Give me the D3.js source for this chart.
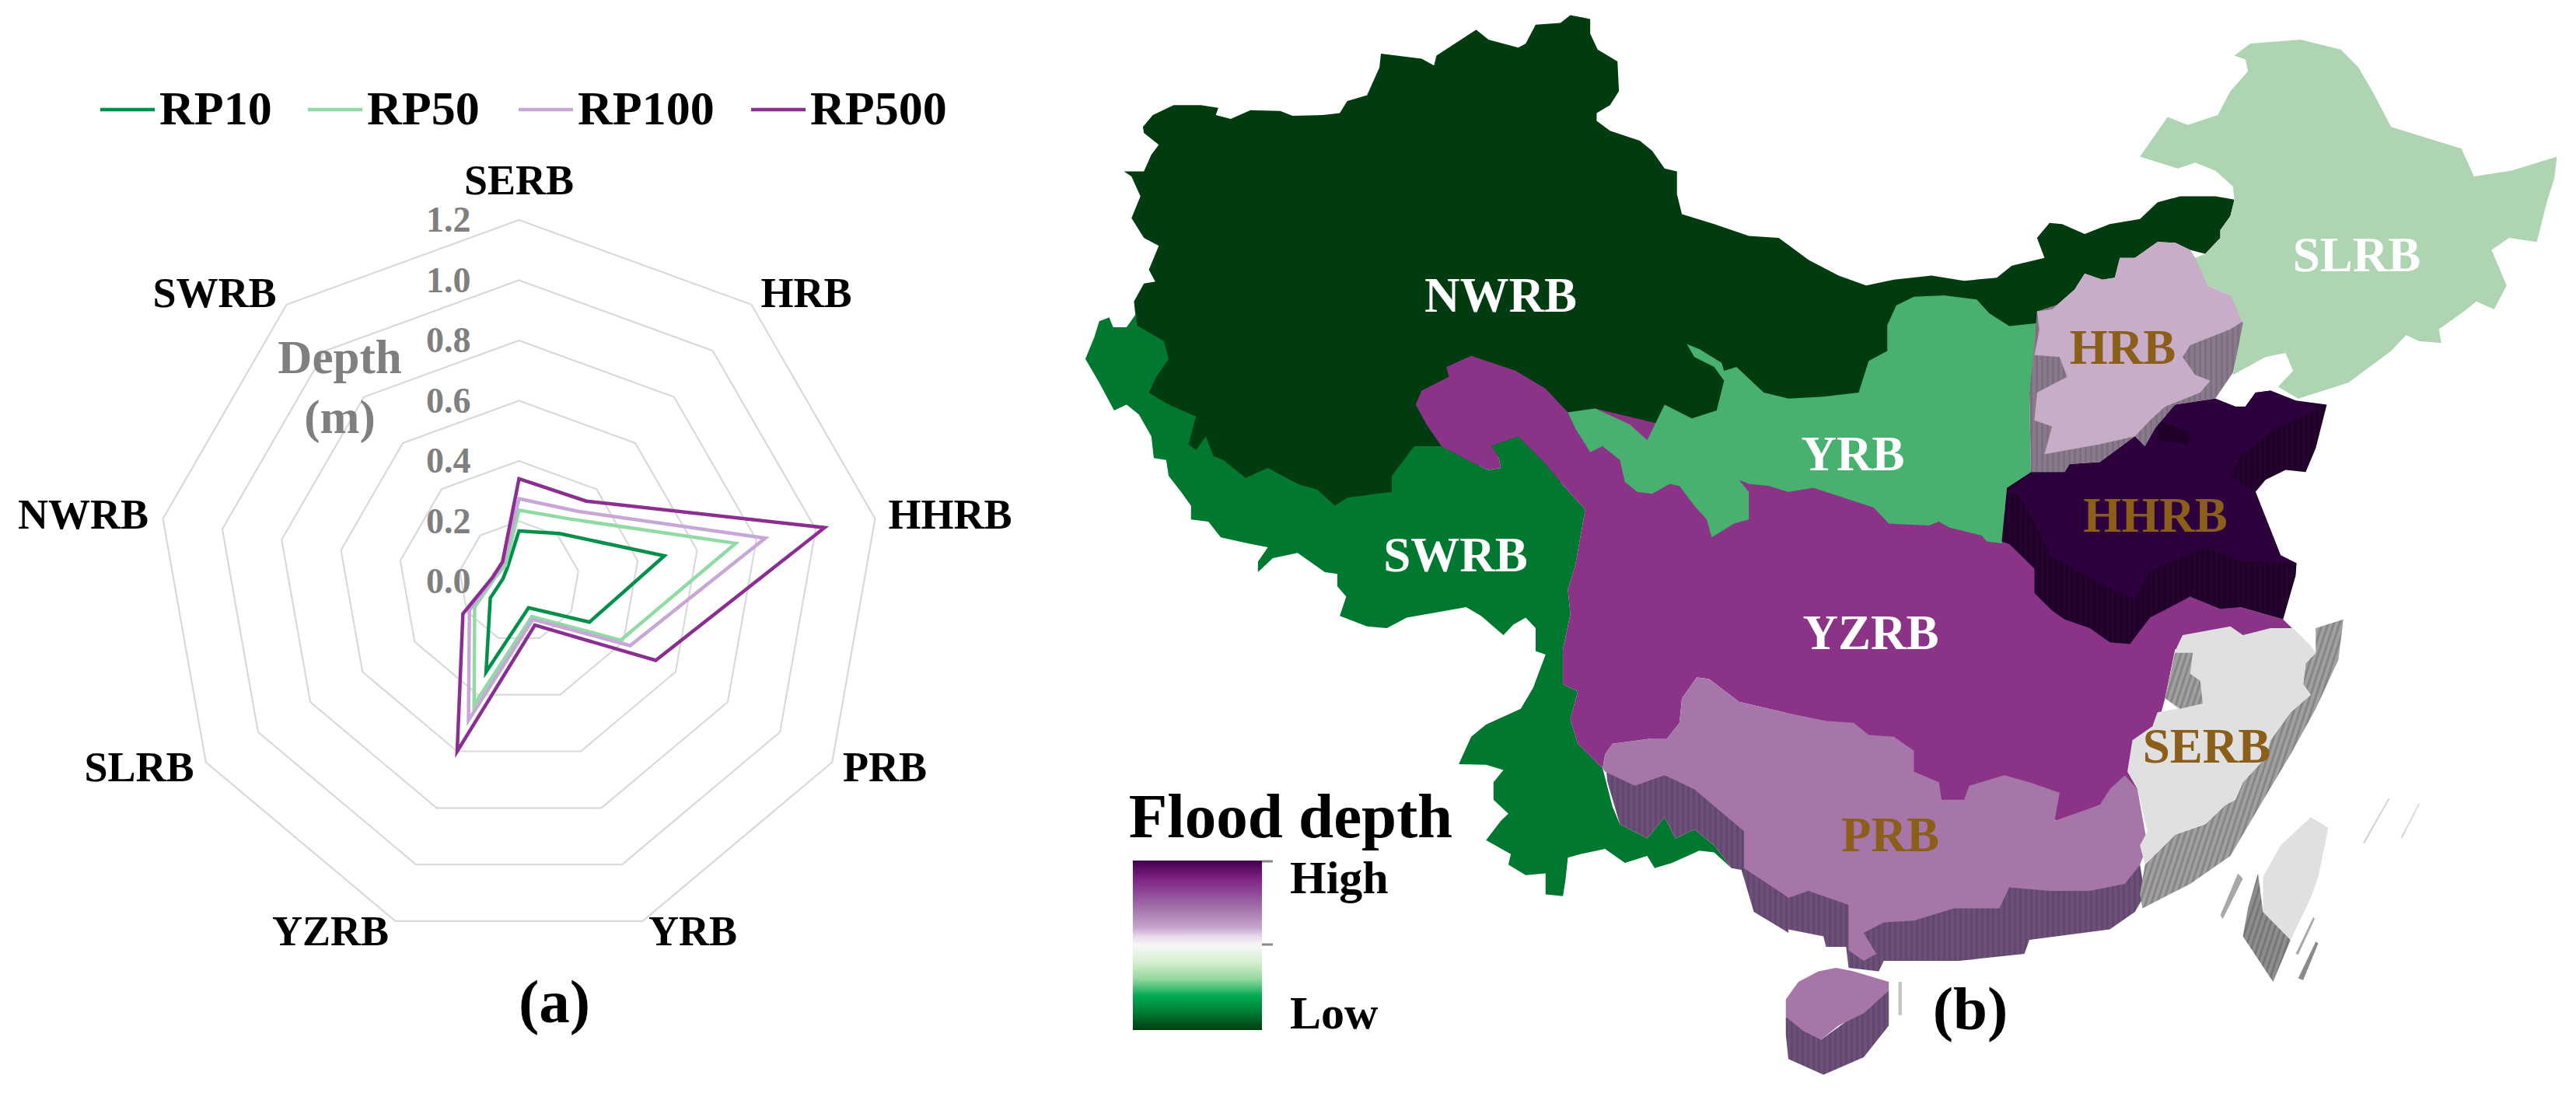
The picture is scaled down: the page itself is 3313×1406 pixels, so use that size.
<!DOCTYPE html>
<html><head><meta charset="utf-8"><style>html,body{margin:0;background:#fff}svg{display:block}text{font-family:"Liberation Serif",serif;font-weight:bold}</style>
<script src="https://cdnjs.cloudflare.com/ajax/libs/d3/7.8.5/d3.min.js"></script></head><body><svg id="c" width="3313" height="1406"></svg>
<script>
const categories=["SERB","HRB","HHRB","PRB","YRB","YZRB","SLRB","NWRB","SWRB"];
const RP10=[0.168,0.208,0.49,0.27,0.093,0.32,0.11,0.054,0.06];
const RP50=[0.237,0.27,0.73,0.39,0.124,0.436,0.17,0.08,0.07];
const RP100=[0.275,0.304,0.83,0.426,0.134,0.49,0.19,0.085,0.08];
const RP500=[0.341,0.348,1.03,0.524,0.154,0.60,0.215,0.088,0.085];
const seriesNames=["RP10","RP50","RP100","RP500"];
const seriesColors=["#00904a","#90dba3","#c9a6d8","#8b2e92"];
const depthTicks=[0,0.2,0.4,0.6,0.8,1.0,1.2];
const catLabelPos=[[667.5,250],[1037,395],[1222,680],[1138,1005],[891,1216],[425,1216],[179,1005],[107,680],[276,395]];

// Map outlines, traced per quadrant of the picture: [quadrant, [x,y,...]]
const Q={NW:[1350,0,1.568,1.96],NE:[2300,0,1.548,1.96],SW:[1350,700,1.568,2.22],SE:[2300,700,1.548,2.22]};
const shapeNWRB=[["NW",[150,432,190,432,205,390,220,365,190,335,188,320,208,290,250,265,305,265,340,272,335,290,365,300,405,278,465,280,490,292,550,290,585,285,600,255,640,240,665,170,668,135,750,148,775,165,780,140,860,75,885,100,945,120,960,110,980,62,1030,58,1050,38,1090,48,1090,85,1105,125,1145,155,1148,230,1130,265,1103,285,1103,305,1130,330,1190,355,1215,380,1240,425,1265,432,1265,490,1275,540,1340,565,1410,595,1470,600,1490,618]],
["NE",[40,655,100,695,155,720,210,705,285,695,350,708,415,700,445,670,510,650,495,600,520,562,545,565,590,590,640,565,700,552,735,510,780,495,850,495,888,503,880,545,860,580,860,600,830,640,800,630,770,612,735,610,690,650,660,650,650,700,625,705,590,690,570,730,525,780,495,815,480,1010,0,1030]],
["NW",[1400,1200,1100,1250,900,1150,700,1300,400,1250,300,1200,200,1000,175,820,170,760,190,715,213,710,200,680,220,620,190,600,165,550,183,495,165,445]]];
const shapeSWRB=[["NW",[120,800,128,825,155,825,175,790,175,820,230,860,240,905,215,950,200,990,240,1020,295,1050,280,1120,295,1135,315,1100,330,1150,350,1160,395,1205,440,1180,500,1220,540,1235,575,1275,600,1255,690,1240,690,1200,735,1125,790,1125,850,1165,885,1185,910,1180,905,1150,890,1125,945,1100,1000,1170,1040,1230,1080,1285]],
["SW",[1060,60,1045,130,1050,200,1035,300,1035,400,1065,420,1050,500,1065,570,1115,640,1135,750,1150,800,1205,840,1240,780,1262,840,1300,815,1340,860,1375,925,1340,880,1310,875,1255,910,1220,925,1205,890,1160,910,1120,870,1070,885,1045,895,1040,960,1035,1005,1000,1000,1000,940,960,945,925,915,930,885,880,845,910,790,925,770,895,730,895,680,915,645,880,630,825,628,850,550,880,515,950,470,975,410,1000,315,980,305,980,240,960,210,935,230,915,260,870,205,840,180,720,210,680,240,640,235,585,205,598,150,580,120,580,85,555,80,500,25,450,40,420,80,420,50]],
["NW",[440,1380,400,1370,345,1355,320,1315,285,1310,285,1275,265,1240,240,1200,235,1160,210,1155,205,1100,180,1045,155,1020,130,1035,100,965,72,905,90,850,100,810]]];
const shapeYZRB=[["NW",[850,897,940,935,1000,980,1045,1040,1100,1030,1500,1150]],["NE",[300,1200,470,1320,500,1400]],
["SE",[600,240,700,150,800,150,900,180,985,215,1010,250,1010,275,770,300,750,440,700,700,540,790,300,740,100,540,77,510]],
["SW",[1480,480,1390,450,1330,385,1305,380,1275,440,1270,510,1245,555,1215,555,1135,570,1120,600,1115,640,1065,570,1050,500,1065,420,1035,400,1035,300,1050,200,1045,130,1060,60]],
["NW",[1080,1285,1040,1230,1000,1170,945,1100,890,1125,905,1150,910,1180,885,1185,850,1165,790,1125,760,1070,738,1020,750,985,805,950,800,925]]];
const shapeYRB=[["NW",[1285,868,1310,880,1355,915,1360,935,1385,925,1440,990,1490,1005]],
["NE",[70,1000,140,990,160,910,197,885,197,820,215,770,250,748,310,745,375,755,400,790,440,822,495,815,480,1000,483,1190,435,1230,425,1370,395,1365,385,1350,320,1330,300,1315,280,1325,200,1320,170,1280,110,1255,50,1230,0,1240]],
["NW",[1450,1225,1410,1220,1390,1210,1410,1240,1410,1310,1380,1320,1335,1355,1325,1310,1300,1275,1270,1225,1250,1220,1215,1245,1185,1240,1160,1215,1150,1160,1115,1125,1090,1140,1060,1080,1045,1040,1100,1030,1170,1070,1205,1110,1240,1020,1295,1055,1345,1035,1360,960,1340,925,1300,900]]];
const shapePRBside=[["SE",[700,915,710,1000,690,1050,640,1100,480,1130,470,1170,340,1190,190,1190,180,1220,120,1210,115,1150,75,1150,70,1120,0,1100]],
["SW",[1490,1110,1420,1050,1395,930,1375,925,1340,860,1300,815,1262,840,1240,780,1205,840,1150,800,1125,680,1122,640,1300,620,1500,800]]];
const shapePRB=[["SW",[1115,640,1120,600,1135,570,1215,555,1245,555,1270,510,1275,440,1305,380,1330,385,1390,450,1480,480]],
["SE",[77,505,130,510,160,545,210,550,250,590,250,650,300,680,305,730,350,730,360,690,430,660,480,680,540,710,530,790,620,745,640,700,670,660,695,700,715,860,700,915,670,970,600,990,520,990,440,980,420,1040,330,1040,250,1075,190,1080,150,1110,175,1170,150,1190,120,1160,120,1030,40,990,0,1010]],
["SW",[1480,1000,1400,925,1400,820,1300,700,1240,660,1180,690,1120,650]]];
const shapeHainanSide=[["SE",[-5,1350,65,1415,200,1275,200,1375,150,1465,70,1515,0,1470,-5,1400]]];
const shapeHainan=[["SE",[-5,1300,20,1250,60,1220,95,1210,130,1220,200,1250,200,1275,150,1340,100,1375,65,1415,30,1390,-5,1350]]];
const shapeSERBside=[["SE",[1050,240,1105,215,1095,330,1050,470,1000,600,950,720,880,890,800,970,705,1040,700,1000,710,915,770,830,830,800,870,745,890,730,905,680,950,610,960,560,1000,480,1040,430,1025,400,1030,340,1050,310]]];
const shapeSERBpatch=[["SE",[770,310,805,310,800,370,820,390,825,455,780,470,750,440]]];
const shapeSERB=[["SE",[785,260,880,235,905,260,960,240,1005,240,1040,290,1050,310,1030,340,1025,400,1040,430,1000,480,960,560,950,610,905,680,890,730,870,745,830,800,770,830,710,915,700,860,715,820,695,700,675,650,685,560,725,520,735,480,775,470,750,440,770,305]]];
const shapeTaiwanSide=[["SE",[935,940,945,1050,1000,1130,965,1250,905,1120,915,1040]]];
const shapeTaiwan=[["SE",[1040,780,1075,810,1055,950,1040,1010,1000,1130,945,1050,945,950,980,860]]];
const shapeIsletA=[["SE",[895,940,905,955,865,1070,860,1060]]];
const shapeIsletB=[["SE",[1050,1135,1055,1140,1025,1245,1015,1240]]];
const shapeIsletC=[["SE",[1045,1065,1048,1070,1015,1172,1010,1170]]];
const shapeIsletD=[["SE",[1195,725,1197,727,1147,855,1144,853]]];
const shapeIsletE=[["SE",[1255,740,1257,742,1222,840,1219,838]]];
const shapeIsletF=[["SE",[219,1250,226,1250,226,1345,219,1345]]];
const shapeHHRBside=[["NE",[435,1230,483,1190,550,1190,560,1170,620,1165,690,1100,710,1125,730,1080,770,1020,850,1005,890,1025,910,1025,930,990,960,985,1010,1010,1072,1020,1050,1130,1030,1190,990,1185,950,1210,930,1240,980,1400,1012,1420]],
["SE",[1012,50,1010,90,985,215,900,180,860,185,800,150,720,210,680,285,640,280,600,240,550,215,525,190,490,140,490,70,440,0]],["NE",[425,1365]]];
const shapeHHRB=[["NE",[440,1240,483,1190,550,1190,560,1170,620,1165,690,1100,710,1125,730,1080,770,1020,850,1005,890,1025,910,1025,930,990,960,985,1010,1010,1060,1030,970,1080,900,1150,880,1200,930,1240,980,1400,1010,1420,900,1415,830,1380,720,1440,690,1510,620,1470,520,1400,500,1340,460,1250]]];
const shapeHHRBpatch=[["NE",[735,1060,800,1090,795,1120,735,1110]]];
const shapeHRBside=[["NE",[495,785,480,1000,483,1190,550,1190,560,1170,620,1165,690,1100,710,1125,730,1080,770,1020,850,1005,885,940,908,815,880,745,700,700]]];
const shapeHRB=[["NE",[495,785,525,780,570,730,590,690,625,705,650,700,660,650,690,650,735,610,770,612,800,630,825,680,835,720,880,745,905,810,880,830,800,870,785,900,810,945,840,960,820,990,750,1025,720,1060,690,1100,620,1120,510,1145,525,1075,490,1060,495,990,555,950,540,900,490,895,500,830]]];
const shapeSLRB=[["NE",[888,140,920,110,1020,100,1100,125,1135,170,1165,235,1200,320,1340,375,1365,445,1440,430,1530,395,1525,450,1510,510,1490,610,1435,600,1400,630,1430,720,1405,780,1370,760,1340,790,1295,830,1300,865,1255,860,1230,845,1200,885,1115,965,1015,1005,975,975,1005,935,990,890,950,900,885,945,905,815,880,745,835,720,810,650,830,640,860,600,860,580,880,545,888,503,885,470,850,430,810,410,775,425,700,395,755,295,795,315,855,290,880,230,915,180,910,150]]];

// Vertical striations on extruded walls: [id, base colour, stripe colour, tilt in degrees]
const wallPatterns=[["wallPRB","#6d5077","#624870",0],["wallHH","#1e0029","#26032f",0],["wallHRB","#8a7a8c","#7d6e81",0],["wallGrey","#a0a0a0","#868686",18],["wallTW","#8e8e8e","#767676",18]];
const mapLayers=[[shapeNWRB,"#013c10"],[shapeSWRB,"#007830"],[shapePRBside,"url(#wallPRB)"],[shapeYZRB,"#8b3487"],[shapeYRB,"#48b16f"],[shapePRB,"#a676a8"],[shapeHainanSide,"url(#wallPRB)"],[shapeHainan,"#a676a8"],
[shapeSERBside,"url(#wallGrey)"],[shapeSERB,"#e0e0e0"],[shapeSERBpatch,"url(#wallGrey)"],[shapeTaiwanSide,"url(#wallTW)"],[shapeTaiwan,"#e0e0e0"],[shapeIsletA,"#a8a8a8"],[shapeIsletB,"#8a8a8a"],[shapeIsletC,"#a8a8a8"],[shapeIsletD,"#d0d0d0"],[shapeIsletE,"#d8d8d8"],[shapeIsletF,"#c4c4c4"],
[shapeHHRBside,"url(#wallHH)"],[shapeHHRB,"#2d003e"],[shapeHHRBpatch,"#1e0029"],[shapeHRBside,"url(#wallHRB)"],[shapeHRB,"#c8adc9"],[shapeSLRB,"#aed4b2"]];
const mapLabels=[["NWRB",1930,401,"#fff"],["SWRB",1872,735,"#fff"],["YRB",2383,605,"#fff"],["HRB",2730,468,"#8b5e1a"],["SLRB",3031,349,"#fff"],["HHRB",2772,684,"#8b5e1a"],["YZRB",2406,835,"#fff"],["PRB",2431,1095,"#8b5e1a"],["SERB",2838,981,"#8b5e1a"]];
const gradStops=[[0,"#40004b"],[.1,"#7b1f82"],[.3,"#a87bb0"],[.4,"#c8a8d0"],[.45,"#eadaec"],[.5,"#f7f7f7"],[.6,"#d5efd0"],[.7,"#93d89d"],[.8,"#00aa55"],[.9,"#007a33"],[1,"#003c10"]];

const svg=d3.select("#c");
const defs=svg.append("defs");
wallPatterns.forEach(([id,a,b,t])=>{
 const p=defs.append("pattern").attr("id",id).attr("patternUnits","userSpaceOnUse").attr("width",7).attr("height",7).attr("patternTransform",`rotate(${t})`);
 p.append("rect").attr("width",7).attr("height",7).attr("fill",a);
 p.append("rect").attr("width",3).attr("height",7).attr("fill",b);
});
// --- radar
const cx=667.5,cy=748;
const r=d3.scaleLinear().domain([0,1.2]).range([0,465]);
const ang=d3.scalePoint().domain(categories).range([0,2*Math.PI*8/9]);
const g=svg.append("g").attr("transform",`translate(${cx},${cy})`);
const ringLine=d3.lineRadial().curve(d3.curveLinearClosed);
g.selectAll("path.ring").data(depthTicks.slice(1)).join("path").attr("class","ring").attr("fill","none").attr("stroke","#d9d9d9").attr("stroke-width",2.2)
 .attr("d",t=>ringLine(categories.map(c=>[ang(c),r(t)])));
[RP10,RP50,RP100,RP500].forEach((s,i)=>{
 g.append("path").attr("fill","none").attr("stroke",seriesColors[i]).attr("stroke-width",4.5).attr("stroke-linejoin","miter")
  .attr("d",ringLine(categories.map((c,j)=>[ang(c),r(s[j])])));
});
const tickFmt=d3.format(".1f");
g.selectAll("text.tick").data(depthTicks).join("text").attr("class","tick").attr("text-anchor","end").attr("x",-62).attr("y",t=>-r(t)+15).attr("font-size",46).attr("fill","#7f7f7f").text(tickFmt);
svg.append("text").attr("x",437).attr("y",480).attr("text-anchor","middle").attr("font-size",61).attr("fill","#7f7f7f").text("Depth");
svg.append("text").attr("x",437).attr("y",557).attr("text-anchor","middle").attr("font-size",61).attr("fill","#7f7f7f").text("(m)");
svg.selectAll("text.cat").data(categories).join("text").attr("class","cat").attr("text-anchor","middle").attr("font-size",54)
 .attr("x",(c,i)=>catLabelPos[i][0]).attr("y",(c,i)=>catLabelPos[i][1]).text(c=>c);
const legX=[129,396,667,966];
seriesNames.forEach((n,i)=>{
 svg.append("line").attr("x1",legX[i]).attr("x2",legX[i]+70).attr("y1",141).attr("y2",141).attr("stroke",seriesColors[i]).attr("stroke-width",4.5);
 svg.append("text").attr("x",legX[i]+76).attr("y",160).attr("font-size",62).text(n);
});
svg.append("text").attr("x",713).attr("y",1315).attr("text-anchor","middle").attr("font-size",79).text("(a)");
// --- map
const toPts=shape=>shape.flatMap(([q,a])=>{const [ox,oy,sx,sy]=Q[q];const xs=d3.scaleLinear().domain([0,sx]).range([ox,ox+1]);const ys=d3.scaleLinear().domain([0,sy]).range([oy,oy+1]);
 return d3.range(0,a.length,2).map(k=>[xs(a[k]),ys(a[k+1])]);});
const area=d3.line().curve(d3.curveLinearClosed);
svg.append("g").selectAll("path").data(mapLayers).join("path").attr("fill",d=>d[1]).attr("d",d=>area(toPts(d[0])));
svg.append("g").selectAll("text").data(mapLabels).join("text").attr("text-anchor","middle").attr("font-size",63).attr("x",d=>d[1]).attr("y",d=>d[2]).attr("fill",d=>d[3]).text(d=>d[0]);
svg.append("text").attr("x",1660).attr("y",1077).attr("text-anchor","middle").attr("font-size",81).text("Flood depth");
const lg=defs.append("linearGradient").attr("id","fd").attr("x1",0).attr("x2",0).attr("y1",0).attr("y2",1);
lg.selectAll("stop").data(gradStops).join("stop").attr("offset",d=>d[0]).attr("stop-color",d=>d[1]);
svg.append("rect").attr("x",1457).attr("y",1107).attr("width",166).attr("height",218).attr("fill","url(#fd)");
[1108,1215].forEach(y=>svg.append("line").attr("x1",1623).attr("x2",1637).attr("y1",y).attr("y2",y).attr("stroke","#888").attr("stroke-width",3));
svg.append("text").attr("x",1659).attr("y",1149).attr("font-size",60).text("High");
svg.append("text").attr("x",1659).attr("y",1323).attr("font-size",60).text("Low");
svg.append("text").attr("x",2534).attr("y",1324).attr("text-anchor","middle").attr("font-size",79).text("(b)");
</script></body></html>
